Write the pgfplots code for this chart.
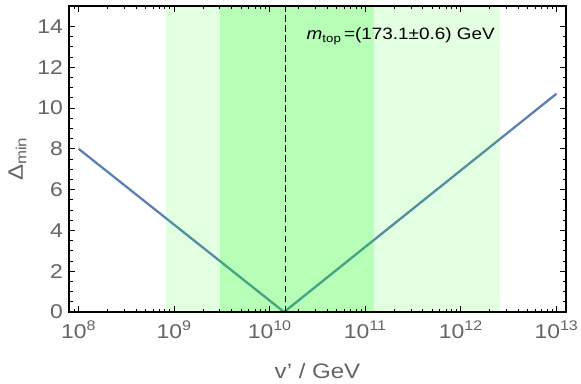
\documentclass[border=0pt]{standalone}
\usepackage{fontspec}
\setmainfont[FakeStretch=1.15]{Liberation Sans}
\usepackage{pgfplots}
\pgfplotsset{compat=1.18}
\definecolor{tickgray}{RGB}{100,100,100}
\definecolor{lineblue}{RGB}{94,129,181}
\begin{document}
\begin{tikzpicture}
\begin{axis}[
  scale only axis,
  width=497bp, height=306bp,
  xmode=log,
  xmin=7.943e7, xmax=1.2589e13,
  ymin=0, ymax=15,
  axis line style={black, line width=1.6bp},
  tick style={black, line width=0.8bp},
  tick align=inside,
  major tick length=6bp,
  minor tick length=3.5bp,
  xtick={1e8,1e9,1e10,1e11,1e12,1e13},
  xticklabels={10\textsuperscript{8},10\textsuperscript{9},10\textsuperscript{10},10\textsuperscript{11},10\textsuperscript{12},10\textsuperscript{13}},
  minor xtick={8e7,9e7,
    2e8,3e8,4e8,5e8,6e8,7e8,8e8,9e8,
    2e9,3e9,4e9,5e9,6e9,7e9,8e9,9e9,
    2e10,3e10,4e10,5e10,6e10,7e10,8e10,9e10,
    2e11,3e11,4e11,5e11,6e11,7e11,8e11,9e11,
    2e12,3e12,4e12,5e12,6e12,7e12,8e12,9e12},
  ytick={0,2,4,6,8,10,12,14},
  minor y tick num=3,
  /pgf/number format/assume math mode=true,
  ticklabel style={text=tickgray, font=\fontsize{20}{22}\selectfont},
  yticklabel style={inner sep=0pt, xshift=-6bp},
  xticklabel style={inner sep=0pt, yshift=-9bp},
  xlabel={v' / GeV},
  ylabel={Δ\textsubscript{min}},
  label style={text=tickgray, font=\fontsize{21}{23}\selectfont},
  xlabel style={at={(axis description cs:0.5,-0.2157)}, anchor=base},
  ylabel style={at={(axis description cs:-0.0926,0.5)}, anchor=base},
  axis on top,
  clip=true,
]
\addplot[lineblue, line width=2.3bp] coordinates {(1e8,8) (1.4125e10,0) (1e13,10.7)};
\addplot[draw=none, fill=green, fill opacity=0.114] coordinates {(8.3e8,0) (2.57e12,0) (2.57e12,15) (8.3e8,15)} -- cycle;
\addplot[draw=none, fill=green, fill opacity=0.187] coordinates {(3.05e9,0) (1.22e11,0) (1.22e11,15) (3.05e9,15)} -- cycle;
\addplot[black, line width=1.9bp, dash pattern=on 6.5bp off 3.5bp] coordinates {(1.462e10,0) (1.462e10,15)};
\node[anchor=base west, inner sep=0pt, font=\fontsize{16.5}{18}\selectfont] at (axis cs:2.427e10,13.36) {\textit{m}\textsubscript{top}\,=(173.1±0.6) GeV};
\coordinate (bl) at (rel axis cs:0,0);
\coordinate (tr) at (rel axis cs:1,1);
\end{axis}
\pgfresetboundingbox
\path[use as bounding box] ([shift={(-69bp,-72bp)}]bl) rectangle ([shift={(15bp,6bp)}]tr);
\end{tikzpicture}
\end{document}
